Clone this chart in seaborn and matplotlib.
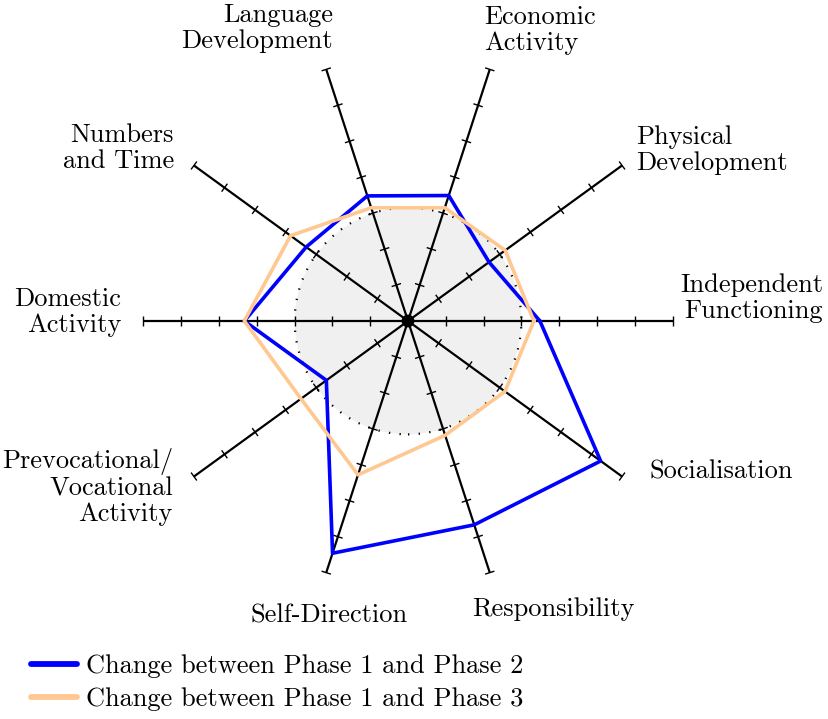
import numpy as np
import pandas as pd
import matplotlib
matplotlib.use("Agg")
import matplotlib.pyplot as plt
from matplotlib.patches import Circle
from matplotlib.collections import LineCollection
import seaborn as sns

# axes, counter-clockwise starting from the right-hand spoke
categories = ["Independent\nFunctioning", "Physical\nDevelopment", "Economic\nActivity",
              "Language\nDevelopment", "Numbers\nand Time", "Domestic\nActivity",
              "Prevocational/\nVocational\nActivity", "Self-Direction",
              "Responsibility", "Socialisation"]
phase2 = [3.49, 2.65, 3.49, 3.48, 3.33, 4.33, 2.67, 6.46, 5.67, 6.30]
phase3 = [3.33, 3.18, 3.15, 3.15, 3.84, 4.33, 3.50, 4.28, 3.18, 3.17]
series_names = ["Change between Phase 1 and Phase 2", "Change between Phase 1 and Phase 3"]
tick_values = [1, 2, 3, 4, 5, 6]
axis_max = 7
zero_ring = 3

# label placement (data units) and alignment
label_pos = [(10.98, 0.61, "right"), (6.03, 4.52, "left"), (2.01, 7.70, "left"),
             (-1.98, 7.75, "right"), (-6.19, 4.58, "right"), (-7.59, 0.24, "right"),
             (-6.22, -4.39, "right"), (-2.09, -7.80, "center"), (3.84, -7.62, "center"),
             (6.40, -3.99, "left")]

sns.set_style("white")
plt.rcParams["font.family"] = ["cmr10", "DejaVu Serif"]
plt.rcParams["axes.formatter.use_mathtext"] = True
plt.rcParams["text.color"] = "black"

n = len(categories)
angles = np.deg2rad(np.arange(n) * 360.0 / n)

fig = plt.figure(figsize=(8.29, 7.19), dpi=100)
ax = fig.add_axes([0, 0, 1, 1])
unit = 37.8
ax.set_xlim(-408 / unit, (829 - 408) / unit)
ax.set_ylim(-(719 - 321) / unit, 321 / unit)
ax.set_aspect("equal")
ax.axis("off")

# shaded inner disc with dotted rim
ax.add_patch(Circle((0, 0), zero_ring, facecolor="#f0f0f0", edgecolor="none", zorder=0))
ax.add_patch(Circle((0, 0), zero_ring, facecolor="none", edgecolor="black",
                    linewidth=1.6, linestyle=(0, (0.6, 4.2)), zorder=1))

# spokes
for a in angles:
    ax.plot([0, axis_max * np.cos(a)], [0, axis_max * np.sin(a)], color="black",
            linewidth=1.6, zorder=2, solid_capstyle="butt")

# tick marks perpendicular to spokes
segs = []
half = 0.13
for a in angles:
    px, py = -np.sin(a), np.cos(a)
    for t in tick_values + [axis_max]:
        cx, cy = t * np.cos(a), t * np.sin(a)
        segs.append([(cx - half * px, cy - half * py), (cx + half * px, cy + half * py)])
ax.add_collection(LineCollection(segs, colors="black", linewidths=1.0, zorder=2))

ax.add_patch(Circle((0, 0), 0.17, facecolor="black", edgecolor="none", zorder=5))

# data polygons
rows = []
for name, vals in zip(series_names, [phase2, phase3]):
    for i in list(range(n)) + [0]:
        rows.append({"x": vals[i] * np.cos(angles[i]), "y": vals[i] * np.sin(angles[i]),
                     "series": name})
df = pd.DataFrame(rows)
sns.lineplot(data=df, x="x", y="y", hue="series", sort=False, estimator=None,
             units="series", palette=["#0000ff", "#ffc891"], linewidth=2.6, ax=ax,
             zorder=3)
# blue drawn over orange
for line, z in zip(ax.get_lines()[-2:], [4, 3]):
    line.set_zorder(z)

for lab, (x, y, ha) in zip(categories, label_pos):
    ax.text(x, y, lab, ha=ha, va="center", multialignment=ha, fontsize=19,
            linespacing=1.1)

leg = ax.legend(loc="lower left", bbox_to_anchor=(0.012, -0.018), frameon=False,
                fontsize=19, handlelength=1.75, handletextpad=0.32,
                labelspacing=0.35, borderaxespad=0.4)
for h in leg.get_lines():
    h.set_linewidth(4.2)

fig.savefig("out.png", dpi=100)
